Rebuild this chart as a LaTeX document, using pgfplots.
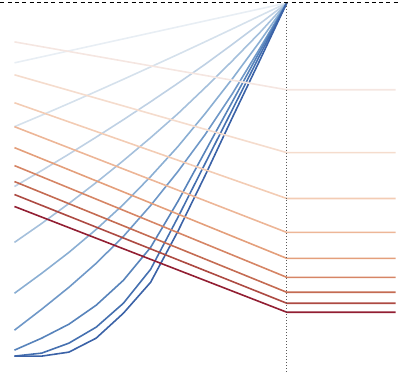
\documentclass[border=0pt]{standalone}
\usepackage{pgfplots}
\pgfplotsset{compat=1.18}
\definecolor{b1}{HTML}{E8EEF4}
\definecolor{b2}{HTML}{D5E1EC}
\definecolor{b3}{HTML}{BFD1E4}
\definecolor{b4}{HTML}{A5C0DC}
\definecolor{b5}{HTML}{8AAED3}
\definecolor{b6}{HTML}{6F98C8}
\definecolor{b7}{HTML}{5783BB}
\definecolor{b8}{HTML}{4570B0}
\definecolor{b9}{HTML}{3B62A7}
\definecolor{r1}{HTML}{F5E6E1}
\definecolor{r2}{HTML}{F5DCCD}
\definecolor{r3}{HTML}{F3CCB4}
\definecolor{r4}{HTML}{EDB697}
\definecolor{r5}{HTML}{E49F7B}
\definecolor{r6}{HTML}{D68565}
\definecolor{r7}{HTML}{C46B52}
\definecolor{r8}{HTML}{AD4A42}
\definecolor{r9}{HTML}{921E32}
\begin{document}
\begin{tikzpicture}
\begin{axis}[
  width=400bp, height=374bp, scale only axis,
  xmin=-0.513, xmax=14.14, ymin=0, ymax=374, y dir=reverse,
  axis line style={draw=none}, ticks=none,
  clip=false,
  every axis plot/.append style={line width=1.6bp, mark=none, line join=round},
]
% blue curves
\addplot[b1] coordinates {(0,63)(1,57)(2,51)(3,45)(4,39)(5,33)(6,27)(7,21)(8,15)(9,9)(10,3)};
\addplot[b2] coordinates {(0,127)(1,115.5)(2,103.7)(3,91.7)(4,79.5)(5,67.1)(6,54.6)(7,41.9)(8,29)(9,16)(10,3)};
\addplot[b3] coordinates {(0,187)(1,171)(2,154.5)(3,137.5)(4,120)(5,102)(6,83.5)(7,64.5)(8,44.5)(9,24)(10,3)};
\addplot[b4] coordinates {(0,243)(1,224)(2,204)(3,183)(4,161)(5,138)(6,114)(7,88)(8,61)(9,33)(10,3)};
\addplot[b5] coordinates {(0,294)(1,274)(2,253)(3,230)(4,205)(5,177)(6,147)(7,114)(8,79)(9,42)(10,3)};
\addplot[b6] coordinates {(0,331)(1,310)(2,288)(3,264)(4,237)(5,206)(6,172)(7,135)(8,94)(9,49)(10,3)};
\addplot[b7] coordinates {(0,351)(1,339)(2,325)(3,306)(4,281)(5,248)(6,202)(7,152)(8,102)(9,52)(10,3)};
\addplot[b8] coordinates {(0,357)(1,354)(2,344)(3,328)(4,304)(5,270)(6,218)(7,164)(8,110)(9,56)(10,3)};
\addplot[b9] coordinates {(0,357)(1,357)(2,353)(3,339)(4,314)(5,283)(6,232)(7,176)(8,118)(9,61)(10,3)};
% red lines
\addplot[r1] coordinates {(0,42)(10,90)(14,90)};
\addplot[r2] coordinates {(0,75)(10,153)(14,153)};
\addplot[r3] coordinates {(0,103)(10,199)(14,199)};
\addplot[r4] coordinates {(0,127)(10,233)(14,233)};
\addplot[r5] coordinates {(0,148)(10,259)(14,259)};
\addplot[r6] coordinates {(0,166)(10,278)(14,278)};
\addplot[r7] coordinates {(0,182)(10,293)(14,293)};
\addplot[r8] coordinates {(0,195)(10,304)(14,304)};
\addplot[r9] coordinates {(0,207)(10,313)(14,313)};
% reference lines
\addplot[black, line width=1bp, dash pattern=on 4bp off 3.3bp] coordinates {(-0.513,3)(14.14,3)};
\addplot[gray!70!black, line width=1.2bp, dash pattern=on 1bp off 2bp] coordinates {(10,3)(10,374)};
\end{axis}
\end{tikzpicture}
\end{document}
